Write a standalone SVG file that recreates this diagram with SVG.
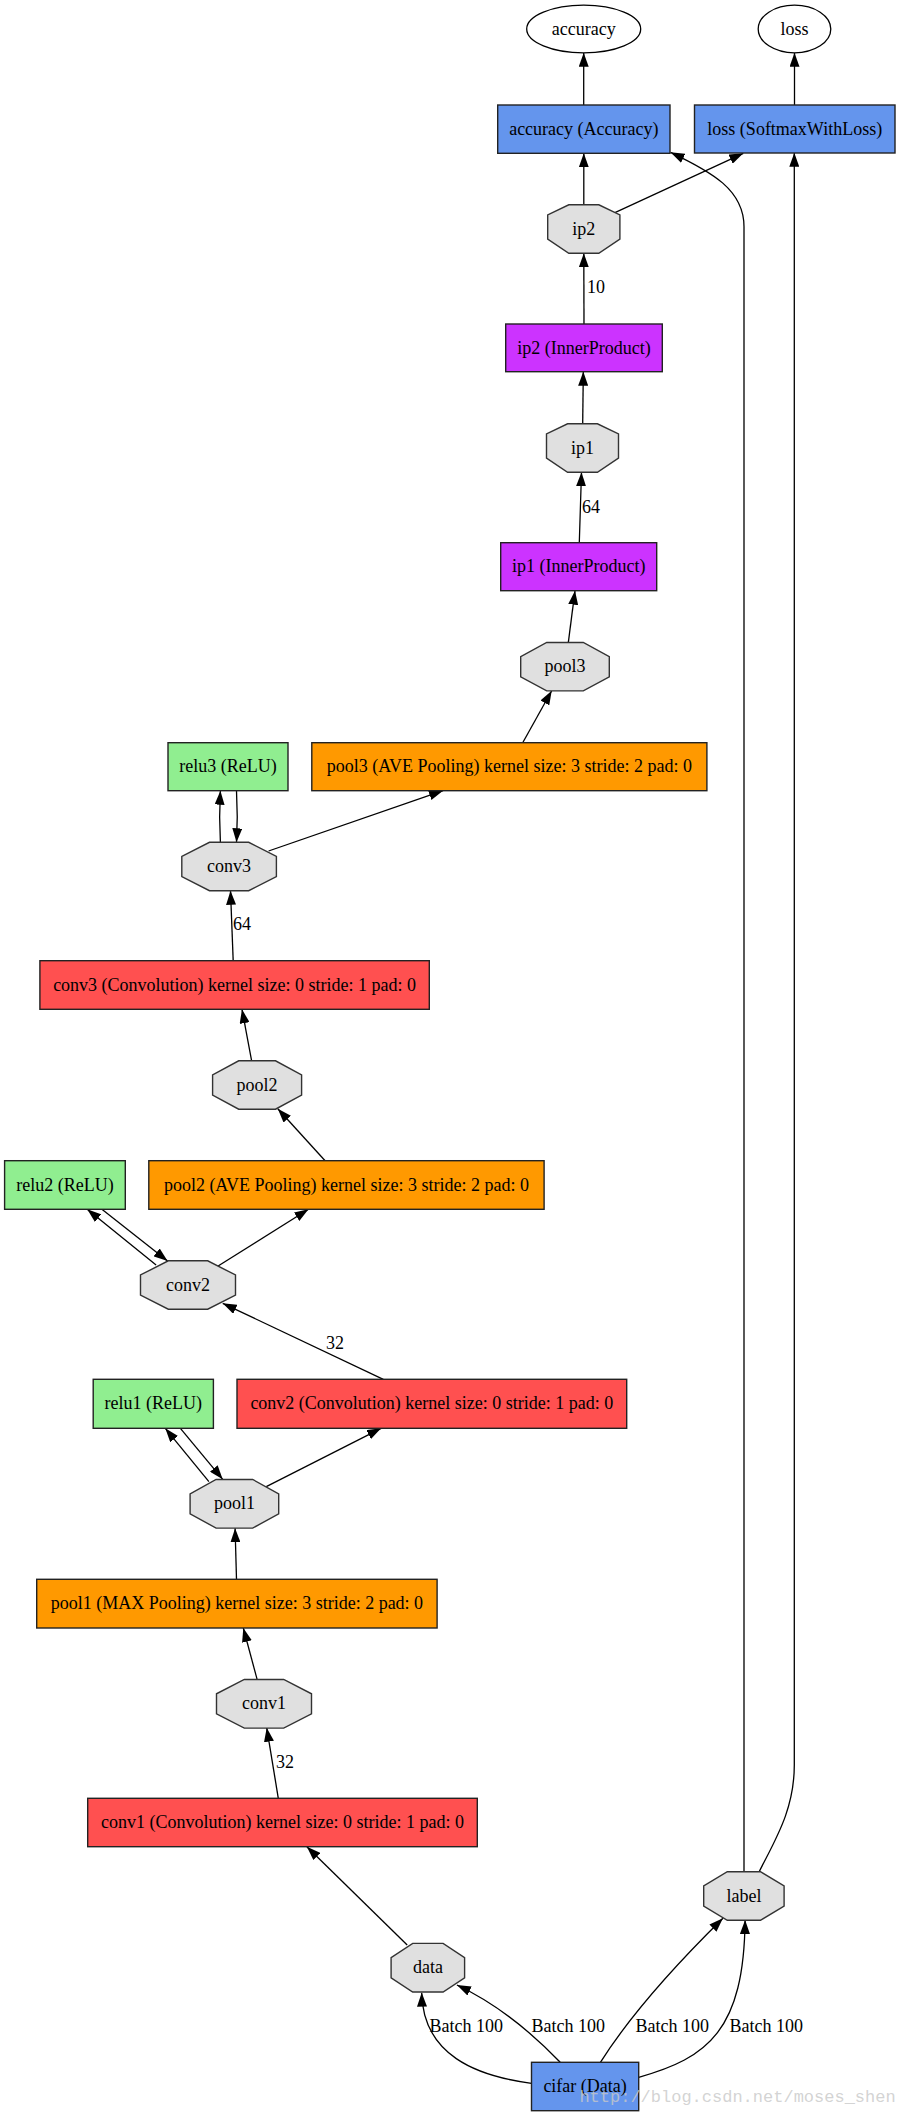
<svg xmlns="http://www.w3.org/2000/svg" width="900" height="2117" viewBox="0 0 900 2117">
<style>
text{font-family:"Liberation Serif","Times New Roman",serif;font-size:18px;fill:#000}
.n{text-anchor:middle}
.box{stroke:#222;stroke-width:1.4}
.blob{fill:#e0e0e0;stroke:#333;stroke-width:1.4}
.out{fill:#fff;stroke:#000;stroke-width:1.3}
.blue{fill:#6495ed}.red{fill:#ff5050}.org{fill:#ff9900}.pur{fill:#cc33ff}.grn{fill:#90ee90}
#edges path{fill:none;stroke:#000;stroke-width:1.3;marker-end:url(#ah)}
.wm{font-family:"Liberation Mono","DejaVu Sans Mono",monospace;font-size:17px;fill:#c8c8c8;fill-opacity:0.8}
</style>
<defs>
<marker id="ah" markerUnits="userSpaceOnUse" markerWidth="14" markerHeight="10" refX="14" refY="5" orient="auto" viewBox="0 0 14 10">
<path d="M0,0 L14,5 L0,10 Z" fill="#000"/>
</marker>
</defs>
<rect width="900" height="2117" fill="#fff"/>

<g id="edges">
<path d="M583.7,105 L583.7,52.8"/>
<path d="M794.5,105 L794.5,52.8"/>
<path d="M583.8,204.8 L583.8,153.3"/>
<path d="M613.3,213.3 L743.3,153.3"/>
<path d="M744,1871.7 L744,226.7 C744,190 712,172 670.5,152.3"/>
<path d="M759.2,1871.7 C775,1840 794.3,1810 794.3,1765 L794.3,152.8"/>
<path d="M584,324 L583.8,253.3"/>
<path d="M582.7,424 L583.3,371.7"/>
<path d="M579.3,542.7 L581.5,472.3"/>
<path d="M568.3,642.7 L575,590.7"/>
<path d="M522.7,742.7 L551.7,690.7"/>
<path d="M268.6,851 L443,790.7"/>
<path d="M220.4,842.3 C219.4,825 219.4,808 220.4,790.7"/>
<path d="M236.5,790.7 C237.5,808 237.5,825 236.5,842.3"/>
<path d="M233.2,960.7 L230.5,890.7"/>
<path d="M251.6,1060.7 L242,1009.3"/>
<path d="M325.1,1160.7 L277.8,1108.8"/>
<path d="M156.1,1265 L87.2,1209.3"/>
<path d="M101.9,1209.3 L167.6,1261"/>
<path d="M218.1,1266 L308.5,1209.3"/>
<path d="M383.3,1379.3 L222.7,1303.3"/>
<path d="M208.9,1481.7 L165.3,1428.3"/>
<path d="M180.4,1428.3 L222.7,1479.3"/>
<path d="M266.3,1486.7 L381.1,1428.3"/>
<path d="M236.5,1579.3 L235.1,1528.3"/>
<path d="M257.1,1679.3 L243.3,1628"/>
<path d="M278.3,1798.3 L266.7,1727.7"/>
<path d="M407.2,1945 L306.9,1846.7"/>
<path d="M531.5,2083.3 C476,2076 423,2055 421.7,1992.7"/>
<path d="M560.2,2062.3 Q510,2010 456.9,1985"/>
<path d="M600.4,2062.3 Q640,2000 722.9,1918.3"/>
<path d="M638.7,2077.3 C708,2058 744,2030 745.1,1920"/>
<text x="587" y="293">10</text>
<text x="582" y="512.5">64</text>
<text x="233" y="930">64</text>
<text x="326" y="1349">32</text>
<text x="276" y="1768">32</text>
<text x="429.4" y="2032">Batch 100</text>
<text x="531.5" y="2032">Batch 100</text>
<text x="635.6" y="2032">Batch 100</text>
<text x="729.4" y="2032">Batch 100</text>
</g>

<g id="accuracy_out"><ellipse class="out" cx="583.7" cy="29" rx="57" ry="23.8"/><text class="n" x="583.7" y="34.5">accuracy</text></g>
<g id="loss_out"><ellipse class="out" cx="794.5" cy="29" rx="36.3" ry="23.8"/><text class="n" x="794.5" y="34.5">loss</text></g>

<g id="accuracy_layer"><rect class="box blue" x="497.7" y="105" width="172.3" height="48.3"/><text class="n" x="583.85" y="134.5">accuracy (Accuracy)</text></g>
<g id="loss_layer"><rect class="box blue" x="694.5" y="105" width="200.5" height="48"/><text class="n" x="794.75" y="134.5">loss (SoftmaxWithLoss)</text></g>

<g id="ip2_blob"><polygon class="blob" points="568.8,204.8 598.8,204.8 619.9,214.9 619.9,239.1 598.8,253.3 568.8,253.3 547.7,239.1 547.7,214.9"/><text class="n" x="583.8" y="234.5">ip2</text></g>
<g id="ip2_layer"><rect class="box pur" x="505.7" y="324" width="156.6" height="47.7"/><text class="n" x="584" y="353.5">ip2 (InnerProduct)</text></g>
<g id="ip1_blob"><polygon class="blob" points="567.6,423.8 597.4,423.8 618.5,433.9 618.5,458.1 597.4,472.3 567.6,472.3 546.5,458.1 546.5,433.9"/><text class="n" x="582.5" y="453.5">ip1</text></g>
<g id="ip1_layer"><rect class="box pur" x="500.7" y="542.7" width="156" height="48"/><text class="n" x="578.7" y="572.2">ip1 (InnerProduct)</text></g>
<g id="pool3_blob"><polygon class="blob" points="546.7,642.5 583.3,642.5 609.3,656.6 609.3,676.8 583.3,690.9 546.7,690.9 520.7,676.8 520.7,656.6"/><text class="n" x="565" y="672.2">pool3</text></g>
<g id="relu3_layer"><rect class="box grn" x="168" y="742.7" width="120" height="48"/><text class="n" x="228" y="772.2">relu3 (ReLU)</text></g>
<g id="pool3_layer"><rect class="box org" x="311.8" y="742.7" width="395.1" height="48"/><text class="n" x="509.35" y="772.2">pool3 (AVE Pooling) kernel size: 3 stride: 2 pad: 0</text></g>
<g id="conv3_blob"><polygon class="blob" points="209.5,842.3 248.7,842.3 276.4,856.5 276.4,876.5 248.7,890.7 209.5,890.7 181.8,876.5 181.8,856.5"/><text class="n" x="229.1" y="872">conv3</text></g>
<g id="conv3_layer"><rect class="box red" x="39.9" y="960.7" width="389.4" height="48.6"/><text class="n" x="234.6" y="990.5">conv3 (Convolution) kernel size: 0 stride: 1 pad: 0</text></g>
<g id="pool2_blob"><polygon class="blob" points="238.7,1060.8 275.5,1060.8 301.6,1075 301.6,1095 275.5,1109.2 238.7,1109.2 212.6,1095 212.6,1075"/><text class="n" x="257.1" y="1090.5">pool2</text></g>
<g id="relu2_layer"><rect class="box grn" x="4.6" y="1160.7" width="120.7" height="48.6"/><text class="n" x="64.95" y="1190.5">relu2 (ReLU)</text></g>
<g id="pool2_layer"><rect class="box org" x="148.8" y="1160.7" width="395.3" height="48.6"/><text class="n" x="346.45" y="1190.5">pool2 (AVE Pooling) kernel size: 3 stride: 2 pad: 0</text></g>
<g id="conv2_blob"><polygon class="blob" points="168.3,1260.8 207.7,1260.8 235.5,1275 235.5,1295 207.7,1309.2 168.3,1309.2 140.5,1295 140.5,1275"/><text class="n" x="188" y="1290.5">conv2</text></g>
<g id="relu1_layer"><rect class="box grn" x="93.2" y="1379.3" width="120.2" height="49"/><text class="n" x="153.3" y="1409.3">relu1 (ReLU)</text></g>
<g id="conv2_layer"><rect class="box red" x="237" y="1379.3" width="389.7" height="49"/><text class="n" x="431.85" y="1409.3">conv2 (Convolution) kernel size: 0 stride: 1 pad: 0</text></g>
<g id="pool1_blob"><polygon class="blob" points="216.1,1479.5 252.7,1479.5 278.7,1493.8 278.7,1513.8 252.7,1528.1 216.1,1528.1 190.1,1513.8 190.1,1493.8"/><text class="n" x="234.4" y="1509.3">pool1</text></g>
<g id="pool1_layer"><rect class="box org" x="36.7" y="1579.3" width="400.4" height="48.7"/><text class="n" x="236.9" y="1609.2">pool1 (MAX Pooling) kernel size: 3 stride: 2 pad: 0</text></g>
<g id="conv1_blob"><polygon class="blob" points="244.3,1679.5 283.7,1679.5 311.5,1693.8 311.5,1713.8 283.7,1728.1 244.3,1728.1 216.5,1713.8 216.5,1693.8"/><text class="n" x="264" y="1709.3">conv1</text></g>
<g id="conv1_layer"><rect class="box red" x="87.7" y="1798.3" width="389.6" height="48.4"/><text class="n" x="282.5" y="1828">conv1 (Convolution) kernel size: 0 stride: 1 pad: 0</text></g>
<g id="label_blob"><polygon class="blob" points="727.3,1871.7 760.5,1871.7 784.1,1886 784.1,1906 760.5,1920.3 727.3,1920.3 703.7,1906 703.7,1886"/><text class="n" x="743.9" y="1901.5">label</text></g>
<g id="data_blob"><polygon class="blob" points="412.7,1943.4 443.1,1943.4 464.6,1957.6 464.6,1977.8 443.1,1992 412.7,1992 391.1,1977.8 391.1,1957.6"/><text class="n" x="427.9" y="1973.2">data</text></g>
<g id="cifar_layer"><rect class="box blue" x="531.5" y="2062.3" width="107.2" height="48.4"/><text class="n" x="585.1" y="2092">cifar (Data)</text></g>

<text class="wm" x="579.4" y="2102">http://blog.csdn.net/moses_shen</text>
</svg>
